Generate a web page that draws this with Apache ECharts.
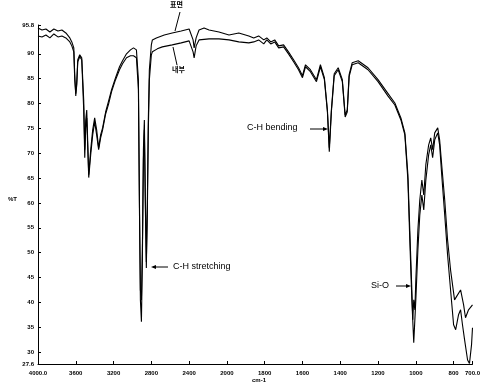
<!DOCTYPE html>
<html><head><meta charset="utf-8">
<script src="https://cdn.jsdelivr.net/npm/echarts@6/dist/echarts.min.js"></script>
<style>html,body{margin:0;padding:0;background:#fff}#c{width:483px;height:385px}</style>
</head><body><div id="c"></div>
<script>
// wavenumbers (cm-1) and %T for the two spectra
const wnSurface = [4000,3958,3916,3874,3832,3789,3747,3705,3663,3642,3621,3611,3600,3589,3579,3558,3537,3516,3505,3495,3484,3463,3442,3421,3400,3379,3358,3337,3316,3284,3253,3221,3179,3137,3105,3063,3021,2989,2958,2937,2926,2916,2905,2895,2884,2874,2863,2853,2842,2832,2821,2800,2789,2747,2663,2579,2484,2400,2379,2358,2347,2326,2295,2242,2189,2084,1989,1937,1884,1858,1832,1805,1789,1768,1747,1726,1700,1674,1647,1621,1600,1584,1558,1526,1505,1484,1468,1458,1447,1432,1411,1389,1374,1363,1353,1337,1305,1253,1200,1147,1111,1079,1058,1042,1032,1021,1016,1011,1005,1000,989,979,968,958,947,932,921,911,900,884,874,863,847,832,816,795,779,763,747,737,721,700];
const tSurface = [95.2,94.8,95.0,94.4,95.0,94.6,94.8,94.2,93.2,92.4,91.2,85.8,81.5,84.8,88.8,89.8,89.2,80.7,70.7,76.7,78.7,65.7,70.7,74.7,77.1,74.7,71.1,73.7,75.1,78.3,80.5,82.8,85.2,87.4,88.6,90.0,90.8,91.2,90.8,84.8,60.6,40.5,36.1,48.6,70.7,76.7,60.6,46.9,60.6,76.7,86.8,91.8,92.8,93.2,93.8,94.2,94.6,95.0,94.8,92.8,91.2,93.2,94.8,95.2,94.8,94.4,93.8,94.2,93.6,93.2,93.6,92.8,93.2,92.4,92.8,91.6,91.8,90.4,88.8,87.2,85.6,87.8,86.8,84.8,87.8,85.2,78.7,71.1,78.7,86.0,87.2,84.8,77.7,78.7,85.8,88.2,88.6,87.2,84.8,82.0,80.1,77.1,74.1,65.7,54.6,42.5,36.5,40.5,38.5,44.5,54.6,60.6,64.6,61.6,67.7,71.7,73.1,70.7,74.1,75.1,72.7,67.7,60.6,52.6,46.5,40.5,41.5,42.5,39.5,36.9,38.5,39.5];
const wnInner = [4000,3958,3916,3874,3832,3789,3747,3705,3663,3642,3621,3611,3600,3589,3579,3558,3537,3516,3505,3495,3484,3463,3442,3421,3400,3379,3358,3337,3316,3284,3253,3221,3179,3137,3105,3063,3021,2989,2958,2937,2926,2916,2905,2895,2884,2874,2863,2853,2842,2832,2821,2800,2789,2737,2684,2579,2484,2400,2379,2358,2347,2326,2295,2189,2084,1989,1937,1884,1858,1832,1805,1789,1768,1747,1726,1700,1674,1647,1621,1600,1584,1558,1526,1505,1484,1468,1458,1447,1432,1411,1389,1374,1363,1353,1337,1305,1253,1200,1147,1111,1079,1058,1042,1032,1021,1011,1000,989,979,968,958,947,932,921,911,900,884,874,863,847,832,816,800,789,774,763,753,742,726,716,705,700];
const tInner = [93.6,93.4,93.8,93.2,94.0,93.4,93.6,93.2,92.4,91.6,90.4,84.8,82.0,83.8,88.4,89.4,88.8,78.7,69.1,75.1,77.1,65.1,69.7,73.7,76.3,73.7,70.7,73.1,74.7,77.9,79.9,82.4,84.8,86.8,88.0,89.2,89.6,89.6,89.2,82.8,58.6,42.5,40.5,50.6,68.7,74.7,58.6,48.1,58.6,74.7,84.8,89.8,90.4,91.0,91.4,91.8,92.2,92.6,92.4,90.4,89.2,91.6,92.8,93.0,93.0,92.8,92.4,92.2,92.4,92.8,92.0,92.8,92.0,92.4,91.2,91.4,90.0,88.4,86.8,85.2,87.4,86.4,84.4,87.4,84.8,78.3,70.3,78.3,85.6,86.8,84.4,77.3,78.3,85.4,87.8,88.2,86.8,84.4,81.5,79.7,76.7,73.7,64.6,52.6,40.5,31.9,40.5,50.6,57.6,61.6,58.6,64.6,69.7,71.7,69.1,72.7,74.1,71.7,65.7,57.6,49.6,42.5,35.5,34.5,37.5,38.5,35.5,32.5,28.4,27.7,31.5,34.9];
const xTickWn = [4000,3600,3200,2800,2400,2000,1800,1600,1400,1200,1000,800,700];
const xTickLabels = ["4000.0","3600","3200","2800","2400","2000","1800","1600","1400","1200","1000","800","700.0"];
const yTicks = [27.6,30,35,40,45,50,55,60,65,70,75,80,85,90,95.8];
const yTickLabels = ["27.6","30","35","40","45","50","55","60","65","70","75","80","85","90","95.8"];

// instrument abscissa: 400 cm-1 per division above 2000, 200 cm-1 per division below
function toU(w){ return w >= 2000 ? (4000 - w) / 400 : 5 + (2000 - w) / 200; }
const xTickU = xTickWn.map(toU);

const chart = echarts.init(document.getElementById('c'), null, {renderer:'canvas'});
const font = '"Liberation Sans", Arial, sans-serif';
const lbl = {fontSize:6, fontWeight:'bold', color:'#000', fontFamily:font};
chart.setOption({
  animation:false,
  backgroundColor:'#fff',
  grid:{left:38, right:8, top:25, bottom:21},
  xAxis:{
    type:'value', min:0, max:toU(700),
    axisLine:{lineStyle:{color:'#000', width:1}},
    axisTick:{inside:true, length:3, lineStyle:{color:'#000'}, customValues:xTickU},
    axisLabel:Object.assign({margin:6, customValues:xTickU,
      formatter:function(v){ let b=0; for(let i=0;i<xTickU.length;i++){ if(Math.abs(xTickU[i]-v)<Math.abs(xTickU[b]-v)) b=i; } return xTickLabels[b]; }}, lbl),
    splitLine:{show:false}
  },
  yAxis:{
    type:'value', min:27.6, max:95.8,
    axisLine:{show:true, lineStyle:{color:'#000', width:1}},
    axisTick:{show:true, inside:true, length:3, lineStyle:{color:'#000'}, customValues:yTicks},
    axisLabel:Object.assign({margin:4, customValues:yTicks,
      formatter:function(v){ let b=0; for(let i=0;i<yTicks.length;i++){ if(Math.abs(yTicks[i]-v)<Math.abs(yTicks[b]-v)) b=i; } return yTickLabels[b]; }}, lbl),
    splitLine:{show:false}
  },
  series:[
    {name:'표면', type:'line', symbol:'none', lineStyle:{color:'#000', width:1.1},
     data: wnSurface.map((w,i)=>[toU(w), tSurface[i]])},
    {name:'내부', type:'line', symbol:'none', lineStyle:{color:'#000', width:1.1},
     data: wnInner.map((w,i)=>[toU(w), tInner[i]])}
  ],
  graphic:[
    {type:'text', left:170, top:1, style:{text:'표면', fontSize:7, fontWeight:'bold', fill:'#000', fontFamily:'"Noto Sans CJK KR", sans-serif'}},
    {type:'line', shape:{x1:180, y1:12, x2:175, y2:31}, style:{stroke:'#000', lineWidth:1}},
    {type:'text', left:172, top:66, style:{text:'내부', fontSize:7, fontWeight:'bold', fill:'#000', fontFamily:'"Noto Sans CJK KR", sans-serif'}},
    {type:'line', shape:{x1:173, y1:47, x2:177, y2:65}, style:{stroke:'#000', lineWidth:1}},
    {type:'text', left:173, top:262, style:{text:'C-H stretching', fontSize:9, fill:'#000', fontFamily:font}},
    {type:'line', shape:{x1:153, y1:267, x2:168, y2:267}, style:{stroke:'#000', lineWidth:1}},
    {type:'polygon', shape:{points:[[151,267],[156,265],[156,269]]}, style:{fill:'#000'}},
    {type:'text', left:247, top:123, style:{text:'C-H bending', fontSize:9, fill:'#000', fontFamily:font}},
    {type:'line', shape:{x1:310, y1:129, x2:325, y2:129}, style:{stroke:'#000', lineWidth:1}},
    {type:'polygon', shape:{points:[[328,129],[323,127],[323,131]]}, style:{fill:'#000'}},
    {type:'text', left:371, top:281, style:{text:'Si-O', fontSize:9, fill:'#000', fontFamily:font}},
    {type:'line', shape:{x1:396, y1:286, x2:407, y2:286}, style:{stroke:'#000', lineWidth:1}},
    {type:'polygon', shape:{points:[[411,286],[406,284],[406,288]]}, style:{fill:'#000'}},
    {type:'text', left:8, top:196, style:{text:'%T', fontSize:6, fontWeight:'bold', fill:'#000', fontFamily:font}},
    {type:'text', left:252, top:377, style:{text:'cm-1', fontSize:6, fontWeight:'bold', fill:'#000', fontFamily:font}}
  ]
});
</script></body></html>
